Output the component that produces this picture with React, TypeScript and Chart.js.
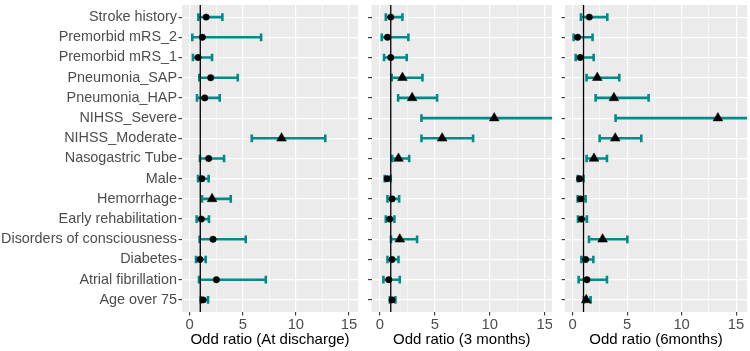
import React, { useEffect, useRef } from 'react';
import { Chart, registerables } from 'chart.js';

Chart.register(...registerables);

const categories = [
  'Stroke history',
  'Premorbid mRS_2',
  'Premorbid mRS_1',
  'Pneumonia_SAP',
  'Pneumonia_HAP',
  'NIHSS_Severe',
  'NIHSS_Moderate',
  'Nasogastric Tube',
  'Male',
  'Hemorrhage',
  'Early rehabilitation',
  'Disorders of consciousness',
  'Diabetes',
  'Atrial fibrillation',
  'Age over 75',
];

const majorTicks = [0, 5, 10, 15];
const minorTicks = [2.5, 7.5, 12.5];

// At discharge
const dischargeOR = [1.55, 1.2, 0.79, 1.98, 1.42, null, 8.65, 1.79, 1.16, 2.11, 1.1, 2.2, 0.97, 2.52, 1.26];
const dischargeLow = [0.82, 0.25, 0.31, 0.91, 0.69, null, 5.85, 0.97, 0.79, 1.16, 0.66, 0.94, 0.6, 0.88, 1.05];
const dischargeHigh = [3.08, 6.73, 2.11, 4.53, 2.83, null, 12.77, 3.24, 1.79, 3.87, 1.82, 5.28, 1.51, 7.17, 1.73];
const dischargeSig = [0, 0, 0, 0, 0, 0, 1, 0, 0, 1, 0, 0, 0, 0, 0];

// 3 months
const m3OR = [1.0, 0.7, 1.0, 2.06, 2.94, 10.4, 5.67, 1.7, 0.67, 1.12, 0.91, 1.82, 1.12, 0.82, 1.12];
const m3Low = [0.55, 0.18, 0.39, 1.09, 1.67, 3.79, 3.79, 1.12, 0.45, 0.7, 0.55, 1.02, 0.7, 0.33, 0.91];
const m3High = [2.06, 2.6, 2.45, 3.88, 5.21, 28.5, 8.48, 2.67, 1.0, 1.76, 1.33, 3.39, 1.7, 1.82, 1.42];
const m3Sig = [0, 0, 0, 1, 1, 1, 1, 1, 0, 0, 0, 1, 0, 0, 0];

// 6 months
const m6OR = [1.53, 0.46, 0.7, 2.26, 3.79, 13.33, 3.91, 1.96, 0.64, 0.73, 0.8, 2.75, 1.19, 1.31, 1.25];
const m6Low = [0.76, 0.09, 0.28, 1.28, 2.11, 3.94, 2.48, 1.28, 0.46, 0.46, 0.49, 1.5, 0.8, 0.55, 1.03];
const m6High = [3.18, 1.83, 1.93, 4.28, 6.97, 45.0, 6.3, 3.15, 1.0, 1.19, 1.31, 5.02, 1.9, 3.15, 1.65];
const m6Sig = [0, 0, 0, 1, 1, 1, 1, 1, 0, 0, 0, 1, 0, 0, 1];

const TEAL = '#008B8B';
const FONT = "'Liberation Sans', Arial, sans-serif";
const CAP = 0.19;

type PanelProps = {
  left: number;
  width: number;
  axisWidth: number;
  showLabels: boolean;
  title: string;
  or: (number | null)[];
  low: (number | null)[];
  high: (number | null)[];
  sig: number[];
  xMin: number;
  xMax: number;
};

function Panel(p: PanelProps) {
  const ref = useRef<HTMLCanvasElement>(null);
  useEffect(() => {
    if (!ref.current) return;
    const whisker: any[] = [];
    const caps: any[] = [];
    const pts: any[] = [];
    const styles: string[] = [];
    const radii: number[] = [];
    categories.forEach((_, i) => {
      const y = i + 1;
      const o = p.or[i];
      const lo = p.low[i];
      const hi = p.high[i];
      if (o == null || lo == null || hi == null) return;
      whisker.push({ x: lo, y }, { x: hi, y }, { x: hi, y: null });
      caps.push({ x: lo, y: y - CAP }, { x: lo, y: y + CAP }, { x: lo, y: null });
      caps.push({ x: hi, y: y - CAP }, { x: hi, y: y + CAP }, { x: hi, y: null });
      pts.push({ x: o, y });
      styles.push(p.sig[i] ? 'triangle' : 'circle');
      radii.push(p.sig[i] ? 5.6 : 3.2);
    });
    const bg = {
      id: 'panelBg',
      beforeDraw(chart: any) {
        const { ctx, chartArea: a } = chart;
        ctx.save();
        ctx.fillStyle = '#EBEBEB';
        ctx.fillRect(a.left, a.top, a.right - a.left, a.bottom - a.top);
        ctx.restore();
      },
    };
    const isMinor = (v: number) => minorTicks.includes(v);
    const chart = new Chart(ref.current, {
      type: 'scatter',
      data: {
        datasets: [
          {
            type: 'line',
            data: pts,
            showLine: false,
            pointStyle: styles as any,
            pointRadius: radii,
            pointBackgroundColor: '#000',
            pointBorderColor: '#000',
            pointBorderWidth: 0.5,
            order: 0,
            clip: 0 as any,
          } as any,
          {
            type: 'line',
            data: [
              { x: 1, y: 0.3 },
              { x: 1, y: 15.7 },
            ],
            borderColor: '#000',
            borderWidth: 1.3,
            pointRadius: 0,
            order: 1,
            clip: 0 as any,
          } as any,
          {
            type: 'line',
            data: whisker,
            borderColor: TEAL,
            borderWidth: 2.6,
            pointRadius: 0,
            spanGaps: false,
            order: 2,
            clip: 0 as any,
          } as any,
          {
            type: 'line',
            data: caps,
            borderColor: TEAL,
            borderWidth: 2.6,
            borderCapStyle: 'butt',
            pointRadius: 0,
            spanGaps: false,
            order: 2,
            clip: 0 as any,
          } as any,
        ],
      },
      options: {
        animation: false,
        responsive: false,
        devicePixelRatio: 1,
        layout: { autoPadding: false, padding: { top: 5, right: 0, bottom: 0, left: 0 } },
        plugins: { legend: { display: false }, tooltip: { enabled: false } },
        scales: {
          x: {
            type: 'linear',
            min: p.xMin,
            max: p.xMax,
            afterBuildTicks: (s: any) => {
              s.ticks = [...majorTicks, ...minorTicks].sort((a, b) => a - b).map((v) => ({ value: v }));
            },
            afterFit: (s: any) => {
              s.height = 39;
              s.paddingLeft = 0;
              s.paddingRight = 0;
            },
            border: { display: false },
            grid: {
              color: '#FFFFFF',
              lineWidth: (c: any) => (isMinor(c.tick?.value) ? 0.6 : 1.2),
              tickColor: (c: any) => (isMinor(c.tick?.value) ? 'rgba(0,0,0,0)' : '#333333'),
              tickLength: 3.5,
              tickWidth: 1.1,
            },
            ticks: {
              autoSkip: false,
              maxRotation: 0,
              color: '#4D4D4D',
              font: { family: FONT, size: 14.8 },
              padding: 1,
              callback: (v: any) => (isMinor(Number(v)) ? '' : String(v)),
            },
            title: {
              display: true,
              text: p.title,
              color: '#000',
              font: { family: FONT, size: 15 },
              padding: { top: 0, bottom: 2 },
            },
          },
          y: {
            type: 'linear',
            reverse: true,
            min: 0.4,
            max: 15.6,
            afterBuildTicks: (s: any) => {
              s.ticks = categories.map((_, i) => ({ value: i + 1 }));
            },
            afterFit: (s: any) => {
              s.width = p.axisWidth;
              s.paddingTop = 0;
              s.paddingBottom = 0;
            },
            border: { display: false },
            grid: {
              color: '#FFFFFF',
              lineWidth: 1.2,
              tickColor: '#333333',
              tickLength: 3.5,
              tickWidth: 1.1,
            },
            ticks: {
              autoSkip: false,
              color: '#4D4D4D',
              font: { family: FONT, size: 14.4 },
              padding: 1.5,
              callback: (v: any) => (p.showLabels ? categories[Number(v) - 1] : ''),
            },
          },
        },
      },
      plugins: [bg],
    } as any);
    return () => chart.destroy();
  }, []);
  return (
    <canvas
      ref={ref}
      width={p.width}
      height={351}
      style={{ position: 'absolute', left: p.left, top: 0, width: p.width, height: 351 }}
    />
  );
}

export default function App() {
  return (
    <div style={{ position: 'absolute', left: 0, top: 0, width: 750, height: 351, overflow: 'hidden', background: '#fff' }}>
      <Panel
        left={0}
        width={358}
        axisWidth={182}
        showLabels={true}
        title="Odd ratio (At discharge)"
        or={dischargeOR}
        low={dischargeLow}
        high={dischargeHigh}
        sig={dischargeSig}
        xMin={-0.72}
        xMax={15.85}
      />
      <Panel
        left={358}
        width={194}
        axisWidth={13.5}
        showLabels={false}
        title="Odd ratio (3 months)"
        or={m3OR}
        low={m3Low}
        high={m3High}
        sig={m3Sig}
        xMin={-0.75}
        xMax={15.65}
      />
      <Panel
        left={552}
        width={195}
        axisWidth={13}
        showLabels={false}
        title="Odd ratio (6months)"
        or={m6OR}
        low={m6Low}
        high={m6High}
        sig={m6Sig}
        xMin={-0.7}
        xMax={16.0}
      />
    </div>
  );
}
